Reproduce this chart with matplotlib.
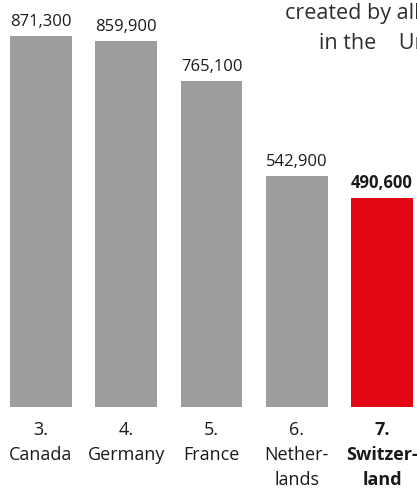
import matplotlib.pyplot as plt
import numpy as np

plt.rcParams['font.family'] = ['Open Sans', 'DejaVu Sans']

ranks = ['3.', '4.', '5.', '6.', '7.']
countries = ['Canada', 'Germany', 'France', 'Nether-\nlands', 'Switzer-\nland']
jobs = [871300, 859900, 765100, 542900, 490600]
value_labels = ['871,300', '859,900', '765,100', '542,900', '490,600']

grey = '#9d9d9c'
red = '#e30613'
colors = [grey, grey, grey, grey, red]

fig = plt.figure(figsize=(4.17, 4.88), dpi=100)
ax = fig.add_axes([0, 81 / 488, 1, 407 / 488])

x = np.arange(len(jobs))
ax.bar(x, jobs, width=0.727, color=colors)

# scale so that the tallest bar ends about 36px from the top
px_per_unit = 371 / 871300
ax.set_ylim(0, 407 / px_per_unit)
ax.set_xlim(-41 / 85.25, (417 - 41) / 85.25)

for i, (v, lab) in enumerate(zip(jobs, value_labels)):
    bold = i == len(jobs) - 1
    ax.annotate(lab, xy=(x[i], v), xytext=(0, 7), textcoords='offset points',
                ha='center', va='baseline', fontsize=12, color='#1a1a1a',
                fontweight='bold' if bold else 'normal')

for i, (r, c) in enumerate(zip(ranks, countries)):
    bold = i == len(jobs) - 1
    ax.annotate(r + '\n' + c, xy=(x[i], 0), xytext=(0, -10), textcoords='offset points',
                ha='center', va='top', fontsize=13, color='#1a1a1a', linespacing=1.5,
                fontweight='bold' if bold else 'normal', annotation_clip=False)

# header text, cut off by the right edge in the source
fig.text(285 / 417, 1 - 19 / 488, 'created by all', ha='left', va='baseline',
         fontsize=15.5, color='#2e2e2e')
fig.text(319 / 417, 1 - 49 / 488, 'in the    Un', ha='left', va='baseline',
         fontsize=15.5, color='#2e2e2e')

ax.axis('off')
fig.savefig('out.png', dpi=100)
